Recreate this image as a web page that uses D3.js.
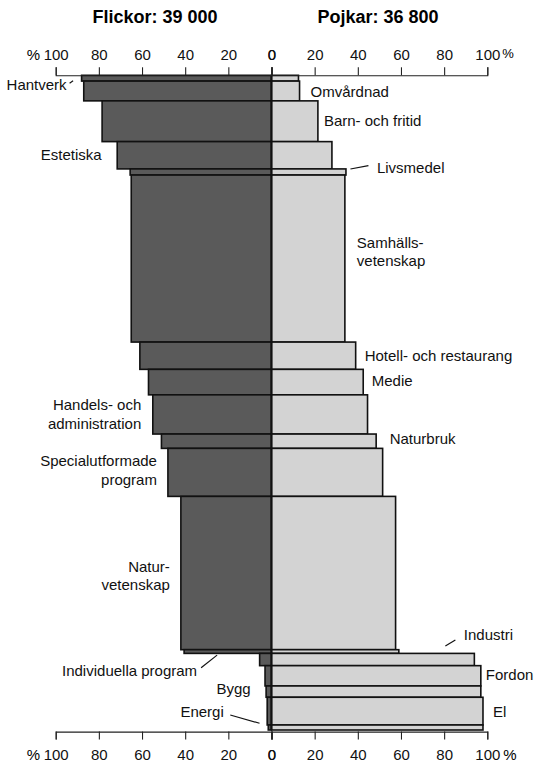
<!DOCTYPE html>
<html>
<head>
<meta charset="utf-8">
<script src="https://cdn.jsdelivr.net/npm/d3@7"></script>
<style>
  body { margin: 0; background: #fff; }
  svg { display: block; font-family: "Liberation Sans", Arial, Helvetica, sans-serif; }
</style>
</head>
<body>
<svg id="chart" width="534" height="762"></svg>
<script>
// programs, top to bottom (sorted by share of girls)
const programs = ["Hantverk", "Omvårdnad", "Barn- och fritid", "Estetiska", "Livsmedel",
  "Samhällsvetenskap", "Hotell- och restaurang", "Medie", "Handels- och administration",
  "Naturbruk", "Specialutformade program", "Naturvetenskap", "Individuella program",
  "Industri", "Fordon", "Bygg", "El", "Energi"];
// number of students per program (bar thickness)
const students = [670, 2290, 4720, 3160, 710, 19340, 3160, 2950, 4540, 1660, 5560, 17750,
  430, 1420, 2350, 1310, 3210, 580];
// share of girls / boys in %
const girlsPct = [88, 87, 78.5, 71.5, 65.5, 65, 61, 57, 55, 51, 48, 42, 40.5, 5.5, 3, 2.5, 2, 1.5];
const boysPct = [12.5, 13, 21.5, 28, 34.5, 34, 39, 42.5, 44.5, 48.5, 51.5, 57.5, 59, 94, 97, 97, 98, 98];
// label text as printed (line breaks)
const labelLines = [["Hantverk"], ["Omvårdnad"], ["Barn- och fritid"], ["Estetiska"], ["Livsmedel"],
  ["Samhälls-", "vetenskap"], ["Hotell- och restaurang"], ["Medie"], ["Handels- och", "administration"],
  ["Naturbruk"], ["Specialutformade", "program"], ["Natur-", "vetenskap"], ["Individuella program"],
  ["Industri"], ["Fordon"], ["Bygg"], ["El"], ["Energi"]];
const tickValues = [0, 20, 40, 60, 80, 100];
const titleGirls = "Flickor: 39 000";
const titleBoys = "Pojkar: 36 800";

// label placement, relative to the bar end and band centre
const labelLayout = [
  { side: "L", dx: -15, dy: 6.5, leader: [-12, 5, -8.5, 2.5] },
  { side: "R", dx: 11, dy: 0.5 },
  { side: "R", dx: 6, dy: -0.5 },
  { side: "L", dx: -15.5, dy: -0.5 },
  { side: "R", dx: 31, dy: -4.3, leader: [4.5, -3, 22.5, -6.3] },
  { side: "R", dx: 12, dy: -7 },
  { side: "R", dx: 9, dy: 0 },
  { side: "R", dx: 8.5, dy: -1.5 },
  { side: "L", dx: -11.5, dy: 0 },
  { side: "R", dx: 13.5, dy: -2.5 },
  { side: "L", dx: -11, dy: -2 },
  { side: "L", dx: -11, dy: 2.5 },
  { side: "L", dx: 13, dy: 19.2, leader: [17, 16.2, 33, 3.6], anchor: "end" },
  { side: "R", dx: -10.5, dy: -24.8, leader: [-29, -13.5, -19, -19.5], anchor: "start" },
  { side: "R", dx: 5, dy: -1.2 },
  { side: "L", dx: -15.5, dy: -3 },
  { side: "R", dx: 10, dy: 0.5 },
  { side: "L", dx: -44.5, dy: -15.8, leader: [-38, -12.5, -8.7, -4.2] }
];

const cx = 271.5, half = 215.8, plotTop = 75.3, plotBottom = 730;
const fontSize = 15, lineHeight = 18.5;

const svg = d3.select("#chart");

const xL = d3.scaleLinear().domain([0, 100]).range([cx, cx - half]);
const xR = d3.scaleLinear().domain([0, 100]).range([cx, cx + half]);
const y = d3.scaleLinear().domain([0, d3.sum(students)]).range([plotTop, plotBottom]);

// cumulative positions of the bands
let acc = 0;
const rows = programs.map((p, i) => {
  const r = { name: p, i: i, y0: acc, y1: acc + students[i], girls: girlsPct[i], boys: boysPct[i] };
  acc += students[i];
  return r;
});

// bars
const bars = svg.append("g");
bars.selectAll("rect.girls")
  .data(rows)
  .enter()
  .append("rect")
  .attr("class", "girls")
  .attr("x", d => xL(d.girls))
  .attr("y", d => y(d.y0))
  .attr("width", d => xL(0) - xL(d.girls))
  .attr("height", d => y(d.y1) - y(d.y0))
  .attr("fill", "#5a5a5a")
  .attr("stroke", "#111")
  .attr("stroke-width", 1.6);

bars.selectAll("rect.boys")
  .data(rows)
  .enter()
  .append("rect")
  .attr("class", "boys")
  .attr("x", xR(0))
  .attr("y", d => y(d.y0))
  .attr("width", d => xR(d.boys) - xR(0))
  .attr("height", d => y(d.y1) - y(d.y0))
  .attr("fill", "#d3d3d3")
  .attr("stroke", "#111")
  .attr("stroke-width", 1.6);

// centre line
svg.append("line")
  .attr("x1", xL(0)).attr("x2", xL(0))
  .attr("y1", y(0)).attr("y2", y(d3.sum(students)))
  .attr("stroke", "#111")
  .attr("stroke-width", 1.8);

// axes
function styleAxis(g) {
  g.attr("font-family", null).attr("font-size", null);
  g.selectAll("text").style("font-size", "15px").attr("fill", "#111");
  g.selectAll("path, line").attr("stroke", "#222").attr("stroke-width", 1.1);
}
const axisTopY = plotTop, axisBottomY = plotBottom + 1.6;
svg.append("g").attr("transform", `translate(0,${axisTopY})`)
  .call(d3.axisTop(xL).tickValues(tickValues).tickSize(8).tickPadding(7)).call(styleAxis);
svg.append("g").attr("transform", `translate(0,${axisTopY})`)
  .call(d3.axisTop(xR).tickValues(tickValues).tickSize(8).tickPadding(7)).call(styleAxis);
svg.append("g").attr("transform", `translate(0,${axisBottomY})`)
  .call(d3.axisBottom(xL).tickValues(tickValues).tickSize(8).tickPadding(10)).call(styleAxis);
svg.append("g").attr("transform", `translate(0,${axisBottomY})`)
  .call(d3.axisBottom(xR).tickValues(tickValues).tickSize(8).tickPadding(10)).call(styleAxis);

// % signs
svg.append("text").attr("x", xL(100) - 15.5).attr("y", axisTopY - 15)
  .attr("text-anchor", "end").style("font-size", "15px").text("%");
svg.append("text").attr("x", xR(100) + 15).attr("y", axisTopY - 17.5)
  .attr("text-anchor", "start").style("font-size", "13px").text("%");
svg.append("text").attr("x", xL(100) - 15.5).attr("y", axisBottomY + 28.5)
  .attr("text-anchor", "end").style("font-size", "15px").text("%");
svg.append("text").attr("x", xR(100) + 16).attr("y", axisBottomY + 28.5)
  .attr("text-anchor", "start").style("font-size", "15px").text("%");

// titles
svg.append("text").attr("x", 155).attr("y", 23)
  .attr("text-anchor", "middle").style("font-size", "18px").style("font-weight", "bold")
  .text(titleGirls);
svg.append("text").attr("x", 378).attr("y", 23)
  .attr("text-anchor", "middle").style("font-size", "18px").style("font-weight", "bold")
  .text(titleBoys);

// program labels
const labels = svg.append("g").style("font-size", fontSize + "px").attr("fill", "#111");
rows.forEach((d, i) => {
  const lay = labelLayout[i];
  const ex = lay.side === "L" ? xL(d.girls) : xR(d.boys);
  const ym = (y(d.y0) + y(d.y1)) / 2;
  const anchor = lay.anchor || (lay.side === "L" ? "end" : "start");
  const lines = labelLines[i];
  const t = labels.append("text")
    .attr("text-anchor", anchor);
  lines.forEach((ln, k) => {
    t.append("tspan")
      .attr("x", ex + lay.dx)
      .attr("y", ym + lay.dy + fontSize * 0.35 + (k - (lines.length - 1) / 2) * lineHeight)
      .text(ln);
  });
  if (lay.leader) {
    const l = lay.leader;
    labels.append("line")
      .attr("x1", ex + l[0]).attr("y1", ym + l[1])
      .attr("x2", ex + l[2]).attr("y2", ym + l[3])
      .attr("stroke", "#111").attr("stroke-width", 1.2);
  }
});
</script>
</body>
</html>
